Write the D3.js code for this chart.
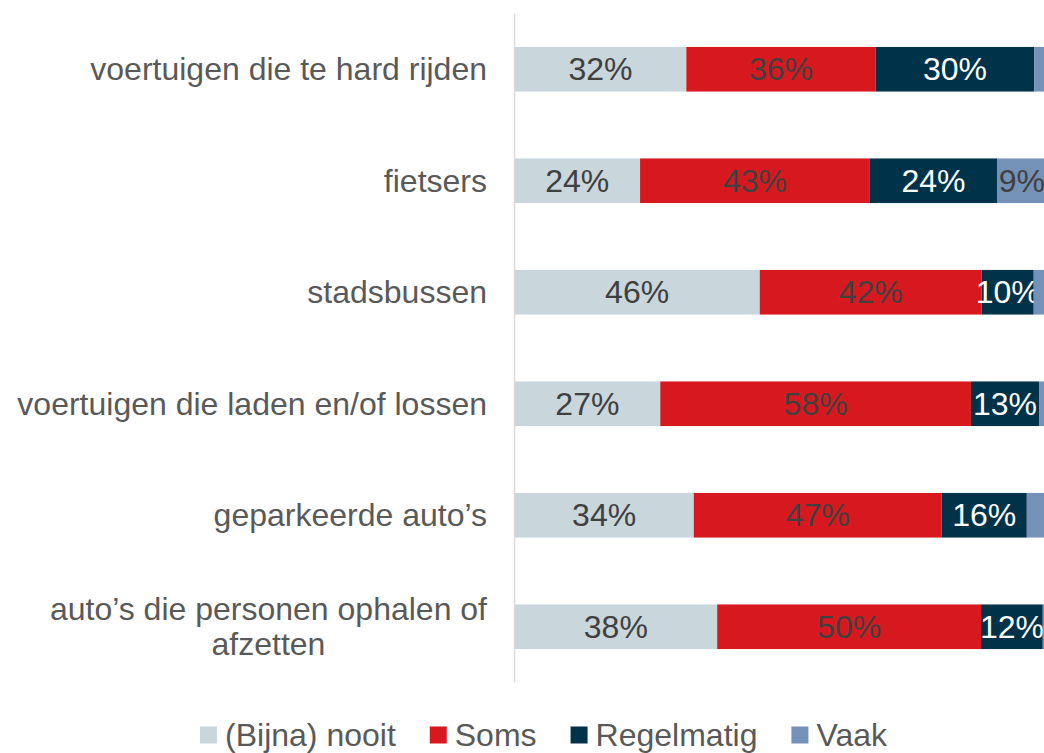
<!DOCTYPE html>
<html>
<head>
<meta charset="utf-8">
<script src="https://cdn.jsdelivr.net/npm/d3@7"></script>
<style>
  html, body { margin: 0; padding: 0; background: #fff; }
  svg { display: block; }
</style>
</head>
<body>
<svg id="chart" width="1044" height="753"></svg>
<script>
// ===============================================================
// Data (percentages)
const categories = [
  "voertuigen die te hard rijden",
  "fietsers",
  "stadsbussen",
  "voertuigen die laden en/of lossen",
  "geparkeerde auto’s",
  "auto’s die personen ophalen of afzetten"
];
const series_names = ["(Bijna) nooit", "Soms", "Regelmatig", "Vaak"];
const nooit      = [32.3, 23.6, 46.1, 27.4, 33.7, 38.1];
const soms       = [35.6, 43.2, 41.7, 58.4, 46.6, 49.6];
const regelmatig = [29.8, 23.9,  9.8, 12.8, 16.0, 11.6];
const vaak       = [ 2.3,  9.3,  2.4,  1.4,  3.7,  0.7];

const colors = ["#c9d6dc", "#d7191f", "#00324a", "#7491b8"];
const label_colors = ["#404040", "#404040", "#ffffff", "#404040"];
const font = "'Liberation Sans', Arial, sans-serif";
const font_size = 32;
const text_grey = "#595959";

const svg = d3.select("#chart");
const width = +svg.attr("width");
const height = +svg.attr("height");

const margin = {left: 514.5, right: -2.5, top: 13.5, bottom: 70.5};

// ===============================================================
// Scales
const rows = categories.map((c, i) => ({
  category: c,
  "(Bijna) nooit": nooit[i],
  "Soms": soms[i],
  "Regelmatig": regelmatig[i],
  "Vaak": vaak[i]
}));

const stack = d3.stack().keys(series_names)(rows);

const x = d3.scaleLinear()
  .domain([0, 100])
  .range([margin.left, width - margin.right]);

const y = d3.scaleBand()
  .domain(categories)
  .range([margin.top, height - margin.bottom])
  .paddingInner(0.6)
  .paddingOuter(0.3);

// ===============================================================
// Bars
const layers = svg.append("g")
  .selectAll("g")
  .data(stack)
  .join("g")
    .attr("fill", (d, i) => colors[i]);

layers.selectAll("rect")
  .data(d => d)
  .join("rect")
    .attr("x", d => x(d[0]))
    .attr("y", d => y(d.data.category))
    .attr("width", d => x(d[1]) - x(d[0]))
    .attr("height", y.bandwidth());

// Percent labels (small segments stay unlabeled)
layers.each(function(layer, li) {
  d3.select(this).selectAll("text")
    .data(layer.filter(d => d[1] - d[0] >= 5))
    .join("text")
      .attr("x", d => (x(d[0]) + x(d[1])) / 2)
      .attr("y", d => y(d.data.category) + y.bandwidth() / 2)
      .attr("dy", "0.35em")
      .attr("text-anchor", "middle")
      .attr("fill", label_colors[li])
      .style("font-family", font)
      .style("font-size", font_size + "px")
      .text(d => Math.round(d[1] - d[0]) + "%");
});

// ===============================================================
// Vertical axis line + category labels
svg.append("line")
  .attr("x1", margin.left)
  .attr("x2", margin.left)
  .attr("y1", margin.top)
  .attr("y2", height - margin.bottom)
  .attr("stroke", "#d9d9d9")
  .attr("stroke-width", 1.5);

const label_right = 487;
const max_label_width = 475;
const line_height = 35;

categories.forEach(c => {
  const t = svg.append("text")
    .attr("text-anchor", "middle")
    .attr("fill", text_grey)
    .style("font-family", font)
    .style("font-size", font_size + "px");

  // simple word wrap
  const words = c.split(" ");
  const lines = [];
  let current = [];
  const probe = t.append("tspan");
  words.forEach(w => {
    const attempt = current.concat(w).join(" ");
    probe.text(attempt);
    if (probe.node().getComputedTextLength() > max_label_width && current.length) {
      lines.push(current.join(" "));
      current = [w];
    } else {
      current.push(w);
    }
  });
  lines.push(current.join(" "));
  probe.remove();

  const widths = lines.map(l => {
    const s = t.append("tspan").text(l);
    const wl = s.node().getComputedTextLength();
    s.remove();
    return wl;
  });
  const block_w = d3.max(widths);
  const cx = label_right - block_w / 2;
  const cy = y(c) + y.bandwidth() / 2;
  const first_y = cy - (lines.length - 1) * line_height / 2;

  lines.forEach((l, i) => {
    t.append("tspan")
      .attr("x", cx)
      .attr("y", first_y + i * line_height)
      .attr("dy", "0.35em")
      .text(l);
  });
});

// ===============================================================
// Legend
const legend = svg.append("g");
const sq = 17, sq_gap = 8, item_gap = 34, legend_y = 735;
let lx = 0;
series_names.forEach((name, i) => {
  const item = legend.append("g").attr("transform", `translate(${lx},0)`);
  item.append("rect")
    .attr("x", 0)
    .attr("y", legend_y - sq / 2)
    .attr("width", sq)
    .attr("height", sq)
    .attr("fill", colors[i]);
  const t = item.append("text")
    .attr("x", sq + sq_gap)
    .attr("y", legend_y)
    .attr("dy", "0.35em")
    .attr("fill", text_grey)
    .style("font-family", font)
    .style("font-size", font_size + "px")
    .text(name);
  lx += sq + sq_gap + t.node().getComputedTextLength() + item_gap;
});
const legend_w = lx - item_gap;
legend.attr("transform", `translate(${543.5 - legend_w / 2},0)`);
</script>
</body>
</html>
